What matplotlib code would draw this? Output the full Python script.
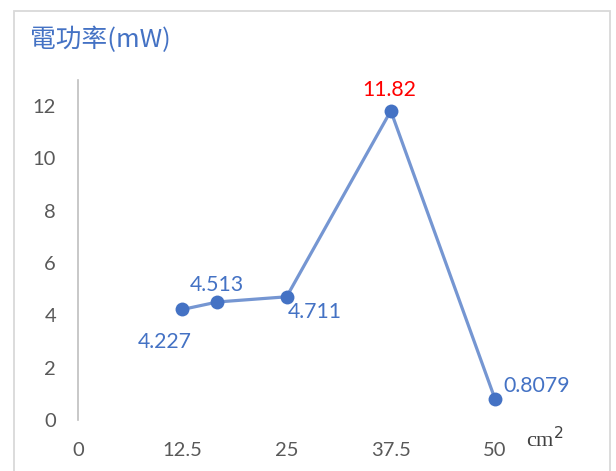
import matplotlib
matplotlib.use("Agg")
import matplotlib.pyplot as plt
from matplotlib.patches import Rectangle

# Area (cm^2) vs. electrical power (mW)
area_cm2 = [12.5, 16.7, 25, 37.5, 50]
power_mw = [4.227, 4.513, 4.711, 11.82, 0.8079]
value_labels = ["4.227", "4.513", "4.711", "11.82", "0.8079"]
label_colors = ["#4472C4", "#4472C4", "#4472C4", "#FF0000", "#4472C4"]
# label offsets (points) relative to each marker
label_offsets = [(-12.7, -23.5), (-0.7, 12.0), (20.4, -11.0), (-1.2, 15.1), (30.2, 9.4)]

x_ticks = [0, 12.5, 25, 37.5, 50]
x_tick_labels = ["0", "12.5", "25", "37.5", "50"]
y_ticks = [0, 2, 4, 6, 8, 10, 12]

title_text = "電功率(mW)"
x_unit_text = "cm$^2$"

num_font = "Lato"
cjk_fonts = ["Noto Sans CJK TC", "DejaVu Sans"]

fig = plt.figure(figsize=(6.16, 4.71), dpi=100)
W, H = 616, 471

# light outer chart border (runs off the bottom edge)
fig.patches.append(Rectangle((14 / W, -0.05), (609.5 - 14) / W, 1.05 - 11 / H,
                             transform=fig.transFigure, fill=False,
                             edgecolor="#D9D9D9", linewidth=1.3, zorder=0))

ax = fig.add_axes([78.3 / W, (H - 420) / H, 500 / W, 340 / H])
ax.set_xlim(0, 60)
ax.set_ylim(0, 13)

ax.plot(area_cm2, power_mw, color="#7596D2", linewidth=2.3, zorder=2,
        solid_capstyle="round")
ax.plot(area_cm2, power_mw, linestyle="none", marker="o", markersize=10,
        color="#4472C4", markeredgewidth=0, zorder=3)

for x, y, txt, col, off in zip(area_cm2, power_mw, value_labels, label_colors, label_offsets):
    ax.annotate(txt, (x, y), xytext=off, textcoords="offset points",
                ha="center", va="center", fontsize=15.3, color=col,
                family=num_font)

for side in ["top", "right", "bottom"]:
    ax.spines[side].set_visible(False)
ax.spines["left"].set_color("#BFBFBF")
ax.spines["left"].set_linewidth(1.2)

ax.set_xticks(x_ticks)
ax.set_xticklabels(x_tick_labels)
ax.set_yticks(y_ticks)
ax.tick_params(axis="both", length=0, labelsize=14.5, labelcolor="#595959")
ax.tick_params(axis="y", pad=16)
ax.tick_params(axis="x", pad=16)
for lbl in ax.get_xticklabels() + ax.get_yticklabels():
    lbl.set_family(num_font)

fig.text(30 / W, 1 - 40 / H, title_text, ha="left", va="center",
         fontsize=18.5, color="#4472C4", family=cjk_fonts)
fig.text(545 / W, 1 - 440 / H, x_unit_text, ha="center", va="center",
         fontsize=16, color="#404040", family="Liberation Serif")

fig.savefig("out.png", dpi=100)
